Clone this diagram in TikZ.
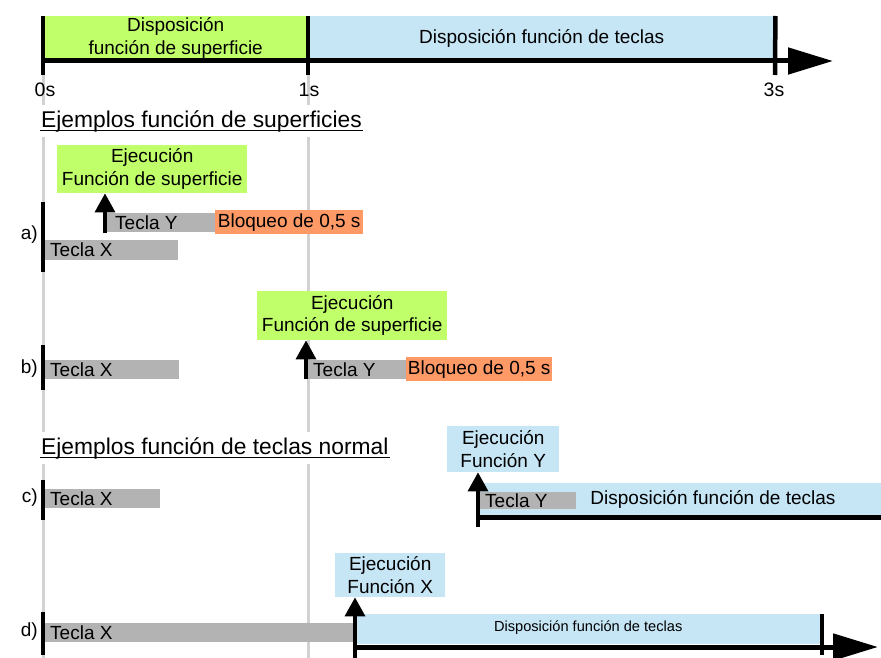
\documentclass[tikz,border=0pt]{standalone}
\usepackage{fontspec}
\setmainfont{Liberation Sans}
\usetikzlibrary{arrows.meta}
\definecolor{limeg}{HTML}{C0FF6A}
\definecolor{skyb}{HTML}{C6E6F6}
\definecolor{orng}{HTML}{FF9966}
\definecolor{barg}{HTML}{B3B3B3}
\definecolor{lineg}{HTML}{D2D2D2}
\begin{document}
\begin{tikzpicture}[x=1pt,y=-1pt,
  txt/.style={font=\fontsize{19}{22.5}\selectfont, inner sep=0pt},
  box/.style={txt, align=center, anchor=north west},
  bar/.style={fill=barg, inner sep=0pt, anchor=north west},
  lab/.style={font=\fontsize{19}{22}\selectfont, inner sep=0pt, anchor=east},
  head/.style={font=\fontsize{22.8}{26}\selectfont, fill=white, inner xsep=1pt, inner ysep=0pt, minimum height=32pt, anchor=west},
  guide/.style={lineg, line width=3pt},
  kbar/.style={line width=4pt},
  tick/.style={line width=4.5pt},
  axis/.style={line width=5pt, -{Triangle[length=45pt 0 0, width=26pt 0 0]}},
  up/.style={line width=3.5pt, -{Triangle[length=19pt 0 0, width=20pt 0 0]}}
]
\useasboundingbox (0,0) rectangle (881,658);

% guide lines
\coordinate (g0t) at (43,75); \coordinate (g0b) at (43,658);
\coordinate (g1t) at (308,75); \coordinate (g1b) at (308,658);
\draw[guide] (g0t) -- (g0b);
\draw[guide] (g1t) -- (g1b);

% top timeline
\node[box, fill=limeg, minimum width=265pt, minimum height=44pt] (tg) at (43,16) {Disposición\\función de superficie};
\node[box, fill=skyb, minimum width=467pt, minimum height=44pt] (tb) at (308,16) {Disposición función de teclas};
\coordinate (ax0) at (43,61); \coordinate (axe) at (833,61);
\draw[axis] (ax0) -- (axe);
\coordinate (t0) at (43,75); \coordinate (t1) at (308,75); \coordinate (t3) at (775,75);
\draw[tick] (tg.north west) -- (t0);
\draw[tick] (tb.north west) -- (t1);
\draw[tick] (tb.north east) -- (t3);
\node[txt, font=\fontsize{19.5}{22}\selectfont] (l0) at (45,90) {0s};
\node[txt, font=\fontsize{19.5}{22}\selectfont] (l1) at (309,90) {1s};
\node[txt, font=\fontsize{19.5}{22}\selectfont] (l3) at (774,90) {3s};

% heading 1
\node[head] (h1) at (40,121) {Ejemplos función de superficies};
\draw[line width=1.5pt] ([yshift=-3.5pt]h1.base west) -- ([yshift=-3.5pt]h1.base east);

% row a
\node[box, fill=limeg, minimum width=190pt, minimum height=48pt] (ea) at (57,145) {Ejecución\\Función de superficie};
\node[bar, minimum width=110pt, minimum height=19pt] (ya) at (105,213) {};
\node[txt, anchor=west] (yat) at ([xshift=10pt]ya.west) {Tecla Y};
\node[box, fill=orng, minimum width=148pt, minimum height=24pt] (oa) at (215,210) {Bloqueo de 0,5 s};
\node[bar, minimum width=133pt, minimum height=20pt] (xa) at (45,240) {};
\node[txt, anchor=west] (xat) at ([xshift=5pt]xa.west) {Tecla X};
\coordinate (ka1) at (43,202); \coordinate (ka2) at (43,272);
\draw[kbar] (ka1) -- (ka2);
\node[lab] (la) at (38,235) {a)};
\coordinate (aa) at (105,233);
\draw[up] (aa) -- (aa |- ea.south);

% row b
\node[box, fill=limeg, minimum width=190pt, minimum height=49pt] (eb) at (257,291) {Ejecución\\Función de superficie};
\node[bar, minimum width=98pt, minimum height=19pt] (yb) at (308,360) {};
\node[txt, anchor=west] (ybt) at ([xshift=5pt]yb.west) {Tecla Y};
\node[box, fill=orng, minimum width=146pt, minimum height=24pt] (ob) at (406,357) {Bloqueo de 0,5 s};
\node[bar, minimum width=134pt, minimum height=19pt] (xb) at (45,360) {};
\node[txt, anchor=west] (xbt) at ([xshift=5pt]xb.west) {Tecla X};
\coordinate (kb1) at (43,345); \coordinate (kb2) at (43,390);
\draw[kbar] (kb1) -- (kb2);
\node[lab] (lb) at (38,369) {b)};
\coordinate (ab) at (306,379);
\draw[up] (ab) -- (ab |- eb.south);

% heading 2
\node[head] (h2) at (40,448) {Ejemplos función de teclas normal};
\draw[line width=1.5pt] ([yshift=-3.5pt]h2.base west) -- ([yshift=-3.5pt]h2.base east);

% row c
\node[box, fill=skyb, minimum width=112pt, minimum height=46pt] (ec) at (447,426) {Ejecución\\Función Y};
\node[bar, fill=skyb, minimum width=403pt, minimum height=32pt] (bc) at (478,483) {};
\coordinate (lc1) at (478,517); \coordinate (lc2) at (881,517);
\draw[line width=5pt] (lc1) -- (lc2);
\node[bar, minimum width=96pt, minimum height=17pt] (yc) at (480,492) {};
\node[txt, anchor=west] (yct) at ([xshift=5pt]yc.west) {Tecla Y};
\node[txt] (dc) at (713,499) {Disposición función de teclas};
\node[bar, minimum width=115pt, minimum height=19pt] (xc) at (45,489) {};
\node[txt, anchor=west] (xct) at ([xshift=5pt]xc.west) {Tecla X};
\coordinate (kc1) at (43,480); \coordinate (kc2) at (43,520);
\draw[kbar] (kc1) -- (kc2);
\node[lab] (lc) at (38,498) {c)};
\coordinate (ac) at (478,527);
\draw[up] (ac) -- (ac |- ec.south);

% row d
\node[box, fill=skyb, minimum width=110pt, minimum height=44pt] (ed) at (335,553) {Ejecución\\Función X};
\node[bar, fill=skyb, minimum width=466pt, minimum height=30pt] (bd) at (355,614) {};
\node[txt, font=\fontsize{14.6}{17}\selectfont] (dd) at ([yshift=2pt]bd.center) {Disposición función de teclas};
\node[bar, minimum width=308pt, minimum height=19pt] (xd) at (45,623) {};
\node[txt, anchor=west] (xdt) at ([xshift=5pt]xd.west) {Tecla X};
\coordinate (ld1) at (355,647); \coordinate (ld2) at (878,647);
\draw[axis] (ld1) -- (ld2);
\coordinate (td1) at (822,614); \coordinate (td2) at (822,655);
\draw[tick, line width=4pt] (td1) -- (td2);
\coordinate (kd1) at (43,612); \coordinate (kd2) at (43,655);
\draw[kbar] (kd1) -- (kd2);
\node[lab] (ld) at (38,632) {d)};
\coordinate (ad) at (355,658);
\draw[up] (ad) -- (ad |- ed.south);
\end{tikzpicture}
\end{document}
